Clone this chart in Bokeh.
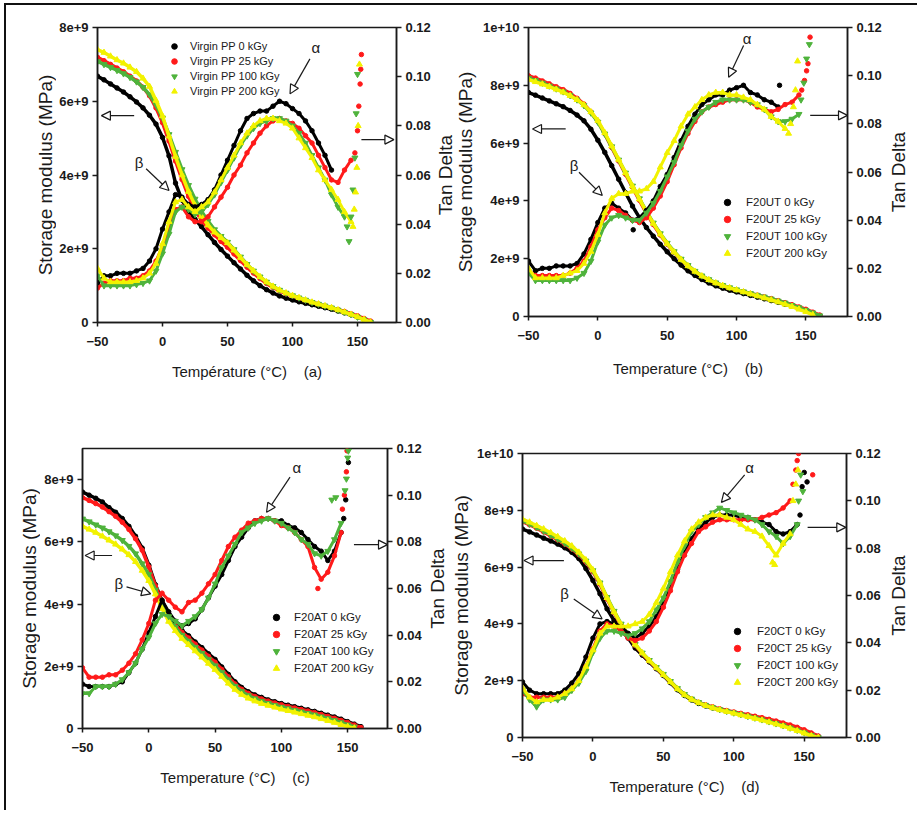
import math
from bokeh.plotting import figure
from bokeh.models import (Range1d, LinearAxis, FixedTicker, NumeralTickFormatter,
                          Legend, LegendItem, Arrow, NormalHead, Label, Div)
from bokeh.layouts import row, column
from bokeh.embed import file_html
from bokeh.resources import INLINE

# ---------------- data ----------------
T_E = list(range(-50, 161, 5))      # temperature grid, storage modulus (°C)
T_TD = list(range(-50, 146, 5))     # temperature grid, tan delta (°C)
X_TICKS = [-50, 0, 50, 100, 150]
TD_TICKS = [0.0, 0.02, 0.04, 0.06, 0.08, 0.10, 0.12]
E_TICK_TEXT = {0: "0", 2: "2e+9", 4: "4e+9", 6: "6e+9", 8: "8e+9", 10: "1e+10"}
DOSES = ["0 kGy", "25 kGy", "100 kGy", "200 kGy"]

# storage modulus (units of 1e9 MPa) -- panel (a) Virgin PP
E_A0 = [6.68, 6.58, 6.47, 6.36, 6.25, 6.12, 5.98, 5.82, 5.62, 5.38, 5.02,
        4.52, 3.78, 3.32, 3.02, 2.80, 2.60, 2.38, 2.17, 1.98, 1.80,
        1.62, 1.45, 1.28, 1.13, 1.00, 0.89, 0.80, 0.72, 0.66, 0.61,
        0.56, 0.52, 0.48, 0.44, 0.40, 0.36, 0.31, 0.26, 0.21, 0.15, 0.08, 0.02]
E_A25 = [7.19, 7.10, 7.00, 6.90, 6.80, 6.68, 6.55, 6.38, 6.15, 5.82, 5.42,
         4.92, 4.38, 3.88, 3.42, 3.05, 2.78, 2.56, 2.38, 2.20, 2.04,
         1.86, 1.68, 1.50, 1.34, 1.19, 1.06, 0.95, 0.86, 0.78, 0.72,
         0.66, 0.60, 0.55, 0.50, 0.45, 0.40, 0.35, 0.30, 0.24, 0.18, 0.11, 0.04]
E_A100 = [7.08, 7.00, 6.92, 6.84, 6.75, 6.65, 6.53, 6.38, 6.18, 5.90, 5.55,
          5.10, 4.62, 4.15, 3.72, 3.35, 3.02, 2.75, 2.52, 2.34, 2.18,
          1.98, 1.78, 1.58, 1.40, 1.24, 1.10, 0.98, 0.88, 0.80, 0.73,
          0.67, 0.61, 0.55, 0.50, 0.45, 0.40, 0.34, 0.28, 0.22, 0.15, 0.08, 0.01]
E_A200 = [7.40, 7.32, 7.22, 7.12, 7.03, 6.92, 6.80, 6.62, 6.40, 6.02, 5.60,
          5.05, 4.50, 4.00, 3.55, 3.18, 2.88, 2.64, 2.45, 2.30, 2.16,
          1.96, 1.76, 1.57, 1.40, 1.24, 1.10, 0.98, 0.88, 0.80, 0.73,
          0.67, 0.61, 0.55, 0.50, 0.45, 0.40, 0.34, 0.28, 0.22, 0.15, 0.08, 0.01]
# tan delta -- panel (a)
TD_A0 = [0.016, 0.019, 0.019, 0.020, 0.020, 0.020, 0.021, 0.022, 0.025, 0.030, 0.038,
         0.045, 0.052, 0.051, 0.048, 0.047, 0.048, 0.050, 0.054, 0.060, 0.066,
         0.072, 0.078, 0.083, 0.085, 0.086, 0.086, 0.088, 0.090, 0.089, 0.087,
         0.085, 0.082, 0.078, 0.073, 0.068, 0.062]
TD_A25 = [0.014, 0.016, 0.017, 0.017, 0.017, 0.018, 0.018, 0.019, 0.021, 0.025, 0.031,
          0.039, 0.046, 0.047, 0.043, 0.041, 0.041, 0.043, 0.047, 0.051, 0.055,
          0.060, 0.064, 0.069, 0.073, 0.077, 0.080, 0.082, 0.083, 0.082, 0.081,
          0.079, 0.076, 0.073, 0.068, 0.063, 0.058, 0.057, 0.062, 0.066]
TD_A100 = [0.019, 0.015, 0.015, 0.015, 0.015, 0.015, 0.0155, 0.016, 0.017, 0.021, 0.028,
           0.036, 0.045, 0.047, 0.046, 0.044, 0.045, 0.048, 0.052, 0.057, 0.062,
           0.067, 0.072, 0.076, 0.079, 0.081, 0.082, 0.083, 0.083, 0.082, 0.080,
           0.077, 0.073, 0.068, 0.063, 0.058, 0.052, 0.047, 0.043]
TD_A200 = [0.022, 0.018, 0.0165, 0.0165, 0.0165, 0.0165, 0.017, 0.018, 0.020, 0.024, 0.032,
           0.041, 0.049, 0.050, 0.047, 0.045, 0.047, 0.049, 0.053, 0.058, 0.063,
           0.068, 0.073, 0.077, 0.080, 0.082, 0.083, 0.083, 0.082, 0.081, 0.079,
           0.075, 0.071, 0.067, 0.062, 0.058, 0.054, 0.050, 0.045, 0.041]
TAILX_A25 = [148, 150, 151, 152, 152.5, 153]
TAILY_A25 = [0.069, 0.078, 0.088, 0.097, 0.103, 0.109]
TAILX_A100 = [142, 143.5, 145, 146.5, 148, 149, 150]
TAILY_A100 = [0.039, 0.033, 0.043, 0.054, 0.067, 0.085, 0.101]
TAILX_A200 = [146.5, 147.5, 148.5, 149.5, 150.5, 151.5]
TAILY_A200 = [0.039, 0.046, 0.053, 0.063, 0.080, 0.105]

# storage modulus -- panel (b) F20UT
E_B0 = [7.75, 7.66, 7.56, 7.46, 7.36, 7.26, 7.13, 6.97, 6.77, 6.48, 6.10,
        5.68, 5.22, 4.75, 4.28, 3.82, 3.42, 3.08, 2.78, 2.50, 2.24,
        2.00, 1.78, 1.58, 1.42, 1.28, 1.16, 1.06, 0.98, 0.91, 0.85,
        0.79, 0.73, 0.67, 0.61, 0.55, 0.49, 0.42, 0.35, 0.28, 0.20, 0.11, 0.03]
E_B25 = [8.33, 8.25, 8.15, 8.05, 7.95, 7.85, 7.72, 7.55, 7.35, 7.08, 6.75,
         6.32, 5.85, 5.38, 4.92, 4.47, 4.02, 3.58, 3.18, 2.82, 2.50,
         2.22, 1.97, 1.75, 1.56, 1.40, 1.27, 1.16, 1.07, 0.99, 0.92,
         0.86, 0.80, 0.74, 0.68, 0.62, 0.55, 0.48, 0.41, 0.33, 0.25, 0.15, 0.05]
E_B100 = [8.25, 8.17, 8.08, 7.98, 7.88, 7.78, 7.65, 7.50, 7.30, 7.05, 6.73,
          6.32, 5.88, 5.42, 4.97, 4.52, 4.08, 3.64, 3.24, 2.87, 2.54,
          2.25, 1.99, 1.77, 1.57, 1.41, 1.28, 1.17, 1.08, 1.00, 0.93,
          0.86, 0.80, 0.74, 0.68, 0.61, 0.54, 0.47, 0.39, 0.31, 0.22, 0.13, 0.03]
E_B200 = [8.20, 8.12, 8.04, 7.95, 7.86, 7.76, 7.64, 7.50, 7.32, 7.08, 6.78,
          6.36, 5.90, 5.43, 4.97, 4.51, 4.06, 3.62, 3.22, 2.85, 2.52,
          2.23, 1.97, 1.75, 1.56, 1.40, 1.27, 1.16, 1.07, 0.99, 0.92,
          0.85, 0.78, 0.71, 0.64, 0.57, 0.50, 0.42, 0.34, 0.25, 0.16, 0.06]
TD_B0 = [0.023, 0.019, 0.020, 0.020, 0.021, 0.021, 0.021, 0.022, 0.026, 0.032, 0.039,
         0.045, 0.047, 0.045, 0.043, 0.040, 0.041, 0.044, 0.048, 0.054, 0.059,
         0.066, 0.073, 0.079, 0.084, 0.088, 0.090, 0.092, 0.092, 0.094, 0.095,
         0.096, 0.093, 0.092, 0.090, 0.089, 0.087]
TD_B25 = [0.019, 0.017, 0.017, 0.017, 0.017, 0.017, 0.018, 0.020, 0.023, 0.029, 0.036,
          0.041, 0.045, 0.044, 0.042, 0.040, 0.039, 0.041, 0.045, 0.050, 0.056,
          0.063, 0.070, 0.076, 0.081, 0.085, 0.087, 0.088, 0.089, 0.090, 0.090,
          0.090, 0.089, 0.087, 0.086, 0.085, 0.086, 0.088, 0.089, 0.092]
TD_B100 = [0.018, 0.015, 0.015, 0.015, 0.015, 0.015, 0.015, 0.016, 0.018, 0.023, 0.031,
           0.038, 0.041, 0.042, 0.041, 0.040, 0.040, 0.043, 0.047, 0.052, 0.058,
           0.064, 0.071, 0.077, 0.082, 0.085, 0.087, 0.089, 0.090, 0.090, 0.090,
           0.090, 0.089, 0.088, 0.086, 0.083, 0.081, 0.081, 0.082, 0.084]
TD_B200 = [0.020, 0.016, 0.016, 0.016, 0.016, 0.017, 0.018, 0.019, 0.022, 0.027, 0.034,
           0.043, 0.049, 0.051, 0.051, 0.052, 0.052, 0.053, 0.056, 0.062, 0.068,
           0.073, 0.079, 0.084, 0.087, 0.090, 0.092, 0.093, 0.093, 0.092, 0.092,
           0.091, 0.090, 0.088, 0.086, 0.083, 0.081, 0.078]
TAILX_B0 = [25.5, 131]
TAILY_B0 = [0.036, 0.096]
TAILX_B25 = [147, 149, 150.5, 151.5, 153]
TAILY_B25 = [0.094, 0.098, 0.102, 0.105, 0.116]
TAILX_B100 = [146.5, 148.5, 150.5, 152.5]
TAILY_B100 = [0.090, 0.097, 0.107, 0.113]
TAILX_B200 = [137.5, 139, 141, 142.5, 144]
TAILY_B200 = [0.076, 0.080, 0.087, 0.094, 0.106]

# storage modulus -- panel (c) F20AT
E_C0 = [7.60, 7.50, 7.40, 7.28, 7.10, 6.95, 6.75, 6.50, 6.18, 5.80, 5.25,
        4.62, 4.10, 3.68, 3.40, 3.15, 2.98, 2.78, 2.60, 2.40, 2.22,
        1.98, 1.74, 1.50, 1.32, 1.18, 1.08, 1.00, 0.92, 0.86, 0.80,
        0.75, 0.70, 0.65, 0.60, 0.55, 0.49, 0.43, 0.37, 0.30, 0.22, 0.14, 0.06]
E_C25 = [7.42, 7.33, 7.23, 7.12, 6.97, 6.82, 6.63, 6.40, 6.10, 5.73, 5.20,
         4.58, 4.06, 3.63, 3.34, 3.09, 2.91, 2.71, 2.52, 2.32, 2.13,
         1.90, 1.66, 1.43, 1.26, 1.13, 1.03, 0.95, 0.88, 0.82, 0.76,
         0.71, 0.66, 0.61, 0.56, 0.51, 0.45, 0.39, 0.33, 0.26, 0.19, 0.11, 0.03]
E_C100 = [6.74, 6.65, 6.55, 6.45, 6.33, 6.20, 6.05, 5.86, 5.62, 5.30, 4.95,
          4.45, 3.96, 3.55, 3.25, 3.00, 2.81, 2.61, 2.42, 2.22, 2.02,
          1.80, 1.57, 1.36, 1.19, 1.06, 0.96, 0.88, 0.81, 0.75, 0.69,
          0.64, 0.59, 0.54, 0.49, 0.44, 0.38, 0.32, 0.26, 0.19, 0.12, 0.05]
E_C200 = [6.50, 6.40, 6.30, 6.18, 6.05, 5.92, 5.76, 5.58, 5.36, 5.08, 4.75,
          4.32, 3.85, 3.44, 3.14, 2.89, 2.69, 2.49, 2.29, 2.09, 1.89,
          1.67, 1.45, 1.25, 1.09, 0.97, 0.88, 0.80, 0.74, 0.68, 0.62,
          0.57, 0.52, 0.47, 0.42, 0.37, 0.31, 0.25, 0.19, 0.12, 0.06, 0.01]
TD_C0 = [0.019, 0.018, 0.018, 0.018, 0.018, 0.019, 0.020, 0.024, 0.028, 0.034, 0.041,
         0.048, 0.055, 0.050, 0.046, 0.044, 0.045, 0.047, 0.051, 0.056, 0.061,
         0.066, 0.072, 0.078, 0.082, 0.086, 0.089, 0.090, 0.090, 0.089, 0.089,
         0.087, 0.086, 0.084, 0.081, 0.078, 0.076, 0.072, 0.076, 0.084]
TD_C25 = [0.026, 0.022, 0.022, 0.022, 0.023, 0.023, 0.025, 0.028, 0.032, 0.038, 0.045,
          0.055, 0.058, 0.055, 0.052, 0.050, 0.054, 0.055, 0.058, 0.062, 0.066,
          0.072, 0.078, 0.082, 0.085, 0.088, 0.089, 0.090, 0.090, 0.089, 0.087,
          0.086, 0.084, 0.081, 0.078, 0.069, 0.064, 0.067, 0.074, 0.084]
TD_C100 = [0.015, 0.015, 0.018, 0.018, 0.018, 0.019, 0.021, 0.024, 0.028, 0.034, 0.039,
           0.045, 0.049, 0.048, 0.046, 0.044, 0.046, 0.048, 0.051, 0.056, 0.062,
           0.069, 0.074, 0.079, 0.084, 0.086, 0.088, 0.089, 0.090, 0.089, 0.088,
           0.086, 0.084, 0.081, 0.079, 0.075, 0.074, 0.076, 0.081, 0.088]
TAILX_C0 = [147, 148.5, 150.5]
TAILY_C0 = [0.090, 0.098, 0.114]
TAILX_C25 = [127.5, 146, 147.5, 149, 149.5]
TAILY_C25 = [0.060, 0.094, 0.100, 0.110, 0.119]
TAILX_C100 = [138, 141, 148, 149, 150, 150.5]
TAILY_C100 = [0.098, 0.099, 0.102, 0.107, 0.116, 0.119]

# storage modulus -- panel (d) F20CT
E_D0 = [7.34, 7.24, 7.13, 7.02, 6.92, 6.81, 6.68, 6.52, 6.30, 5.95, 5.53,
        5.06, 4.53, 4.12, 3.80, 3.50, 3.15, 2.90, 2.66, 2.42, 2.18,
        1.93, 1.68, 1.48, 1.32, 1.20, 1.11, 1.04, 0.98, 0.92, 0.87,
        0.82, 0.77, 0.72, 0.67, 0.61, 0.55, 0.48, 0.41, 0.33, 0.24, 0.14, 0.04]
E_D25 = [7.60, 7.49, 7.37, 7.24, 7.10, 6.96, 6.81, 6.64, 6.44, 6.18, 5.84,
         5.40, 4.88, 4.40, 3.95, 3.58, 3.24, 2.95, 2.69, 2.45, 2.21,
         1.97, 1.72, 1.52, 1.36, 1.24, 1.15, 1.08, 1.01, 0.95, 0.90,
         0.85, 0.80, 0.75, 0.70, 0.64, 0.58, 0.51, 0.44, 0.36, 0.27, 0.16, 0.05]
E_D100 = [7.63, 7.52, 7.40, 7.27, 7.13, 6.99, 6.84, 6.67, 6.47, 6.22, 5.88,
          5.45, 4.94, 4.45, 4.00, 3.62, 3.28, 2.98, 2.72, 2.47, 2.23,
          1.98, 1.73, 1.52, 1.36, 1.24, 1.14, 1.06, 0.99, 0.93, 0.87,
          0.81, 0.75, 0.69, 0.63, 0.56, 0.49, 0.42, 0.34, 0.26, 0.17, 0.08, 0.0]
E_D200 = [7.69, 7.58, 7.46, 7.34, 7.21, 7.07, 6.92, 6.74, 6.52, 6.25, 5.90,
          5.45, 4.92, 4.42, 3.98, 3.62, 3.28, 2.98, 2.71, 2.46, 2.21,
          1.96, 1.71, 1.50, 1.34, 1.22, 1.12, 1.04, 0.97, 0.91, 0.85,
          0.79, 0.73, 0.67, 0.61, 0.54, 0.47, 0.40, 0.32, 0.24, 0.15, 0.06, 0.0]
TD_D0 = [0.0235, 0.020, 0.0185, 0.0185, 0.0185, 0.0185, 0.020, 0.023, 0.027, 0.034, 0.042,
         0.048, 0.049, 0.048, 0.047, 0.044, 0.042, 0.044, 0.047, 0.051, 0.057,
         0.064, 0.071, 0.078, 0.084, 0.088, 0.091, 0.093, 0.094, 0.094, 0.094,
         0.093, 0.093, 0.092, 0.091, 0.090, 0.087, 0.086, 0.087, 0.090]
TD_D25 = [0.0185, 0.017, 0.017, 0.017, 0.017, 0.017, 0.0185, 0.0205, 0.024, 0.030, 0.0375,
          0.045, 0.048, 0.047, 0.045, 0.042, 0.041, 0.042, 0.045, 0.049, 0.055,
          0.062, 0.070, 0.077, 0.082, 0.087, 0.089, 0.091, 0.092, 0.092, 0.092,
          0.092, 0.092, 0.092, 0.093, 0.094, 0.095, 0.097, 0.100]
TD_D100 = [0.020, 0.016, 0.013, 0.016, 0.016, 0.016, 0.017, 0.020, 0.023, 0.028, 0.036,
           0.042, 0.045, 0.045, 0.044, 0.043, 0.044, 0.046, 0.049, 0.054, 0.059,
           0.066, 0.074, 0.081, 0.087, 0.090, 0.093, 0.095, 0.097, 0.096, 0.095,
           0.094, 0.093, 0.092, 0.090, 0.087, 0.085, 0.082, 0.085, 0.090]
TD_D200 = [0.021, 0.017, 0.015, 0.016, 0.016, 0.017, 0.0185, 0.0205, 0.024, 0.030, 0.037,
           0.044, 0.047, 0.047, 0.047, 0.047, 0.048, 0.049, 0.052, 0.057, 0.063,
           0.070, 0.077, 0.083, 0.088, 0.091, 0.093, 0.094, 0.094, 0.093, 0.092,
           0.090, 0.088, 0.087, 0.085, 0.081, 0.077, 0.082, 0.086]
TAILX_D0 = [147, 148.5, 150, 152]
TAILY_D0 = [0.094, 0.106, 0.112, 0.108]
TAILX_D25 = [142, 144, 145, 146, 156]
TAILY_D25 = [0.107, 0.113, 0.117, 0.120, 0.111]
TAILX_D100 = [146, 147.5, 149]
TAILY_D100 = [0.100, 0.111, 0.104]
TAILX_D200 = [127.5, 129, 142, 144, 145.5]
TAILY_D200 = [0.074, 0.073, 0.100, 0.107, 0.113]

# ---------------- style ----------------
SANS = "Liberation Sans"
INK = "#1a1a1a"
COLORS = ["#000000", "#ff1a1a", "#4fb33c", "#f2f200"]
MARKERS = ["circle", "circle", "inverted_triangle", "triangle"]
SIZES = [4.5, 4.5, 6, 6]
Y_TITLE = "Storage modulus (MPa)"
R_TITLE = "Tan Delta"


def style_axis(ax, standoff, tick_out):
    ax.axis_line_color = INK
    ax.axis_line_width = 1.5
    ax.major_tick_line_color = INK
    ax.major_tick_line_width = 1.5
    ax.major_tick_in = 0
    ax.major_tick_out = tick_out
    ax.minor_tick_line_color = None
    ax.major_label_text_font = SANS
    ax.major_label_text_font_size = "13px"
    ax.major_label_text_font_style = "bold"
    ax.major_label_text_color = INK
    ax.major_label_standoff = standoff


def make_panel(E_series, TD_series, tails, name, ymax, yticks, xtitle,
               geo, leg, arrows, greek, xtitle_standoff):
    w, h, bl, br, bt, bb = geo
    p = figure(width=w, height=h, min_border_left=bl, min_border_right=br,
               min_border_top=bt, min_border_bottom=bb,
               x_range=Range1d(-50, 180), y_range=Range1d(0, ymax),
               output_backend="svg", toolbar_location=None, tools="")
    p.extra_y_ranges = {"td": Range1d(0, 0.12)}
    p.xgrid.visible = False
    p.ygrid.visible = False
    p.outline_line_color = INK
    p.outline_line_width = 1.5

    legend_rs = []
    for i, e in enumerate(E_series):
        xs = T_E[:len(e)]
        p.line(xs, e, line_color=COLORS[i], line_width=3.5, line_join="round")
        r = p.scatter(xs, e, marker=MARKERS[i], size=SIZES[i],
                      fill_color=COLORS[i], line_color=COLORS[i])
        legend_rs.append(r)
    for i, td in enumerate(TD_series):
        if td is None:
            continue
        xs = T_TD[:len(td)]
        p.line(xs, td, line_color=COLORS[i], line_width=3, line_join="round",
               y_range_name="td")
        p.scatter(xs, td, marker=MARKERS[i], size=SIZES[i], fill_color=COLORS[i],
                  line_color=COLORS[i], y_range_name="td")
    for i, tail in enumerate(tails):
        if tail is None:
            continue
        p.scatter(tail[0], tail[1], marker=MARKERS[i], size=SIZES[i],
                  fill_color=COLORS[i], line_color=COLORS[i], y_range_name="td")

    xa = p.xaxis[0]
    style_axis(xa, 10, 4)
    xa.ticker = FixedTicker(ticks=X_TICKS)
    xa.axis_label = xtitle
    xa.axis_label_text_font = SANS
    xa.axis_label_text_font_size = "15px"
    xa.axis_label_text_font_style = "normal"
    xa.axis_label_text_color = INK
    xa.axis_label_standoff = xtitle_standoff
    ya = p.yaxis[0]
    style_axis(ya, 4, 5)
    ya.ticker = FixedTicker(ticks=yticks)
    ya.major_label_overrides = {t: E_TICK_TEXT[t] for t in yticks}
    ra = LinearAxis(y_range_name="td", ticker=FixedTicker(ticks=TD_TICKS),
                    formatter=NumeralTickFormatter(format="0.00"))
    style_axis(ra, 4, 5)
    p.add_layout(ra, "right")

    lx, ly, fs, ih, so = leg
    items = [LegendItem(label=f"{name} {d}", renderers=[r])
             for d, r in zip(DOSES, legend_rs)]
    lg = Legend(items=items, location=(lx, ly), label_text_font=SANS,
                label_text_font_size=fs, label_text_color=INK,
                glyph_width=16, glyph_height=ih, label_height=ih, spacing=1,
                padding=0, margin=0, label_standoff=so,
                border_line_color=None, background_fill_alpha=0)
    p.add_layout(lg)

    for (x0, y0, x1, y1) in arrows:
        p.add_layout(Arrow(x_start=x0, y_start=y0, x_end=x1, y_end=y1,
                           line_color=INK, line_width=1.2,
                           end=NormalHead(size=9, fill_color="white",
                                          line_color=INK, line_width=1.2)))
    for (t, x, y) in greek:
        p.add_layout(Label(x=x, y=y, text=t, text_align="center",
                           text_baseline="middle", text_font=SANS,
                           text_font_size="15px", text_color=INK))
    return p


def title_strip(width, height, titles):
    """A blank strip that carries the rotated axis titles (reading bottom-to-top)."""
    s = figure(width=width, height=height, x_range=Range1d(0, width),
               y_range=Range1d(0, height), min_border=0,
               x_axis_location=None, y_axis_location=None,
               output_backend="svg", toolbar_location=None, tools="")
    s.outline_line_color = None
    s.xgrid.visible = False
    s.ygrid.visible = False
    for (text, x, y) in titles:
        s.add_layout(Label(x=x, y=y, text=text, angle=math.pi / 2,
                           text_align="center", text_baseline="middle",
                           text_font=SANS, text_font_size="19px", text_color=INK))
    return s


NB = "\u00a0" * 4
pa = make_panel([E_A0, E_A25, E_A100, E_A200],
                [TD_A0, TD_A25, TD_A100, TD_A200],
                [None, (TAILX_A25, TAILY_A25), (TAILX_A100, TAILY_A100), (TAILX_A200, TAILY_A200)],
                "Virgin PP", 8, [0, 2, 4, 6, 8], "Température (°C)" + NB + "(a)",
                (377, 395, 40, 37, 22, 78), (69, 224, "11px", 14, 8),
                [(113.4, 7.15, 98.1, 6.2), (-12.6, 4.17, 5, 3.58),
                 (-21.8, 5.61, -47, 5.61), (153, 4.96, 178, 4.96)],
                [("α", 118, 7.45), ("β", -18, 4.34)], 14)
pb = make_panel([E_B0, E_B25, E_B100, E_B200],
                [TD_B0, TD_B25, TD_B100, TD_B200],
                [(TAILX_B0, TAILY_B0), (TAILX_B25, TAILY_B25), (TAILX_B100, TAILY_B100), (TAILX_B200, TAILY_B200)],
                "F20UT", 10, [0, 2, 4, 6, 8, 10], "Temperature (°C)" + NB + "(b)",
                (405, 395, 48, 37, 22, 84), (191, 55, "11.5px", 16, 11),
                [(105.1, 9.38, 94.3, 8.28), (-13.6, 4.99, 3.2, 4.19),
                 (-23.2, 6.49, -47.1, 6.49), (153.1, 6.96, 180, 6.96)],
                [("α", 107.6, 9.61), ("β", -17.2, 5.22)], 17)
pc = make_panel([E_C0, E_C25, E_C100, E_C200],
                [TD_C0, TD_C25, TD_C100, None],
                [(TAILX_C0, TAILY_C0), (TAILX_C25, TAILY_C25), (TAILX_C100, TAILY_C100), None],
                "F20AT", 9, [0, 2, 4, 6, 8], "Temperature (°C)" + NB + "(c)",
                (384, 405, 42, 37, 48, 77), (186, 52, "11.5px", 16, 10),
                [(106.5, 8.08, 88.8, 6.95), (-16.8, 4.55, 1.4, 4.33),
                 (-27.7, 5.56, -48, 5.56), (154.7, 5.91, 180, 5.91)],
                [("α", 111.6, 8.40), ("β", -22.6, 4.67)], 14)
pd_ = make_panel([E_D0, E_D25, E_D100, E_D200],
                 [TD_D0, TD_D25, TD_D100, TD_D200],
                 [(TAILX_D0, TAILY_D0), (TAILX_D25, TAILY_D25), (TAILX_D100, TAILY_D100), (TAILX_D200, TAILY_D200)],
                 "F20CT", 10, [0, 2, 4, 6, 8, 10], "Temperature (°C)" + NB + "(d)",
                 (410, 405, 48, 37, 53, 68), (207, 47, "11.5px", 16, 12),
                 [(107.7, 9.25, 91.2, 8.28), (-13.6, 4.88, 6.5, 4.18),
                  (-20.6, 6.23, -48.9, 6.23), (152.4, 7.40, 179.5, 7.40)],
                 [("α", 111.2, 9.51), ("β", -20.1, 5.06)], 14)

# title strips (rotated axis titles), positioned within each strip in pixels
h0 = title_strip(50, 395, [(Y_TITLE, 38.5, 225.5)])
h1 = title_strip(46, 395, [(R_TITLE, 12, 225.5), (Y_TITLE, 32, 228.5)])
h2 = title_strip(27, 395, [(R_TITLE, 14, 228.5)])
h3 = title_strip(34, 405, [(Y_TITLE, 23, 217)])
h4 = title_strip(49, 405, [(R_TITLE, 12.7, 217), (Y_TITLE, 37, 210)])
h5 = title_strip(28, 405, [(R_TITLE, 15, 210)])

top = row(column(h0), column(pa), column(h1), column(pb), column(h2))
bottom = row(column(h3), column(pc), column(h4), column(pd_), column(h5))
content = column(top, bottom)
frame_top = Div(text="", width=913, height=2, margin=(3, 0, 0, 4),
                styles={"background-color": "#111111"})
frame_left = Div(text="", width=2, height=805, margin=(0, 0, 0, 4),
                 styles={"background-color": "#111111"})
layout = column(frame_top, row(frame_left, content))

open("out.html", "w").write(file_html(layout, INLINE))
